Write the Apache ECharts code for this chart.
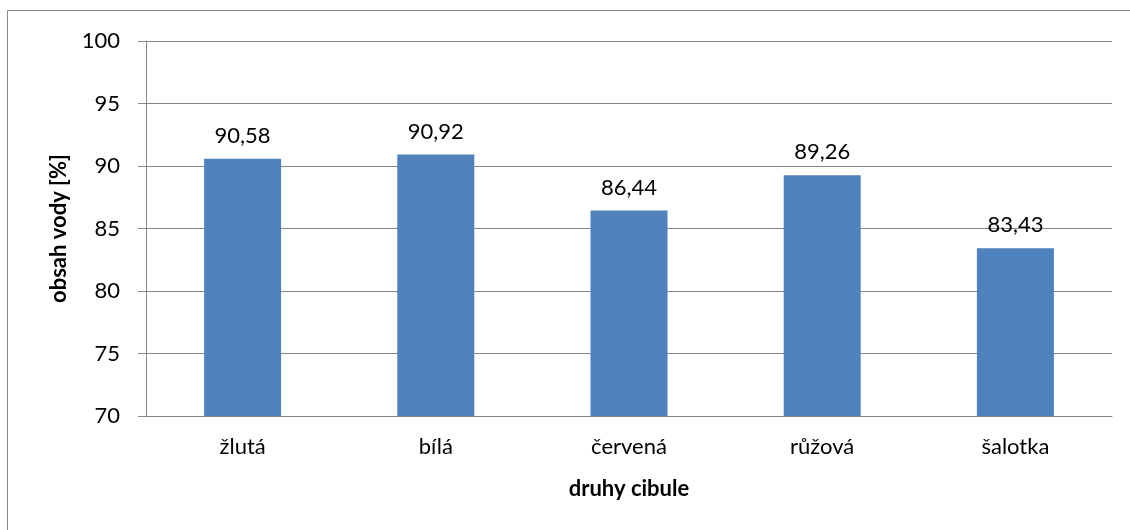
<!DOCTYPE html>
<html>
<head>
<meta charset="utf-8">
<script src="https://cdn.jsdelivr.net/npm/echarts@6/dist/echarts.min.js"></script>
<style>
html,body{margin:0;padding:0;background:#fff;}
#c{width:1130px;height:530px;}
</style>
</head>
<body>
<div id="c"></div>
<script>
const categories = ['žlutá', 'bílá', 'červená', 'růžová', 'šalotka'];
const values = [90.58, 90.92, 86.44, 89.26, 83.43];
const yTicks = [70, 75, 80, 85, 90, 95, 100];

const FONT = 'Lato';
const FS = 22;
const chart = echarts.init(document.getElementById('c'), null, {renderer: 'canvas'});
chart.setOption({
  backgroundColor: '#fff',
  animation: false,
  textStyle: {fontFamily: FONT},
  graphic: [{
    type: 'rect',
    shape: {x: 7.5, y: 10.5, width: 1200, height: 600},
    style: {fill: 'none', stroke: '#878787', lineWidth: 1},
    silent: true
  }],
  grid: {left: 146, right: 18, top: 41, bottom: 114},
  xAxis: {
    type: 'category',
    data: categories,
    name: 'druhy cibule',
    nameLocation: 'middle',
    nameGap: 62,
    nameTextStyle: {fontFamily: FONT, fontSize: FS, fontWeight: 'bold', color: '#000'},
    axisLine: {lineStyle: {color: '#868686', width: 1}},
    axisTick: {show: false},
    axisLabel: {fontFamily: FONT, fontSize: FS, color: '#000', margin: 20}
  },
  yAxis: {
    type: 'value',
    min: yTicks[0],
    max: yTicks[yTicks.length - 1],
    interval: 5,
    name: 'obsah vody [%]',
    nameLocation: 'middle',
    nameGap: 76,
    nameRotate: 90,
    nameTextStyle: {fontFamily: FONT, fontSize: FS, fontWeight: 'bold', color: '#000'},
    axisLine: {show: true, lineStyle: {color: '#868686', width: 1}},
    axisTick: {show: true, length: 8, inside: false, lineStyle: {color: '#868686'}},
    axisLabel: {fontFamily: FONT, fontSize: FS, color: '#000', margin: 26},
    splitLine: {lineStyle: {color: '#868686', width: 1}}
  },
  series: [{
    type: 'bar',
    data: values,
    barWidth: 77,
    itemStyle: {color: '#4F81BD'},
    label: {
      show: true,
      position: 'top',
      distance: 12,
      fontFamily: FONT,
      fontSize: FS,
      color: '#000',
      formatter: p => p.value.toFixed(2).replace('.', ',')
    }
  }]
});
</script>
</body>
</html>
